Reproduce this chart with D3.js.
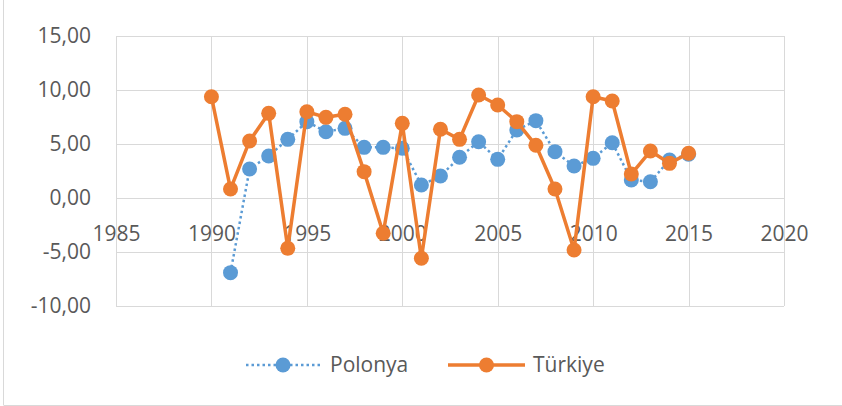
<!DOCTYPE html>
<html>
<head>
<meta charset="utf-8">
<script src="https://cdn.jsdelivr.net/npm/d3@7"></script>
<style>
  body { margin: 0; background: #fff; }
  text { font-family: "Open Sans", sans-serif; fill: #595959; }
</style>
</head>
<body>
<div id="chart"></div>
<script>
// data
var years = [1990, 1991, 1992, 1993, 1994, 1995, 1996, 1997, 1998, 1999, 2000, 2001, 2002,
  2003, 2004, 2005, 2006, 2007, 2008, 2009, 2010, 2011, 2012, 2013, 2014, 2015];
var polonya = [null, -6.91, 2.69, 3.89, 5.43, 7.07, 6.14, 6.45, 4.69, 4.69, 4.6, 1.2, 2.04,
  3.77, 5.21, 3.58, 6.3, 7.16, 4.29, 2.96, 3.67, 5.12, 1.67, 1.51, 3.52, 4.05];
var turkiye = [9.38, 0.83, 5.28, 7.84, -4.66, 7.99, 7.47, 7.75, 2.44, -3.27, 6.91, -5.58, 6.36,
  5.43, 9.54, 8.61, 7.07, 4.88, 0.83, -4.81, 9.38, 8.98, 2.22, 4.35, 3.21, 4.14];
var xTicks = [1985, 1990, 1995, 2000, 2005, 2010, 2015, 2020];
var yTicks = [-10, -5, 0, 5, 10, 15];
var seriesNames = ["Polonya", "Türkiye"];

var svgWidth = 842;
var svgHeight = 406;
var margin = { top: 36, right: 58, bottom: 100, left: 116 };
var width = svgWidth - margin.left - margin.right;
var height = svgHeight - margin.top - margin.bottom;

var svg = d3.select("#chart")
  .append("svg")
  .attr("width", svgWidth)
  .attr("height", svgHeight);

// chart border (left and bottom visible)
svg.append("line").attr("x1", 3.5).attr("x2", 3.5).attr("y1", 0).attr("y2", 405)
  .attr("stroke", "#d9d9d9").attr("stroke-width", 1);
svg.append("line").attr("x1", 3.5).attr("x2", 842).attr("y1", 405.5).attr("y2", 405.5)
  .attr("stroke", "#d9d9d9").attr("stroke-width", 1);

var chartGroup = svg.append("g")
  .attr("transform", `translate(${margin.left}, ${margin.top})`);

var x = d3.scaleLinear().domain([1985, 2020]).range([0, width]);
var y = d3.scaleLinear().domain([-10, 15]).range([height, 0]);

// gridlines
chartGroup.selectAll(".hgrid")
  .data(yTicks)
  .enter()
  .append("line")
  .attr("x1", 0).attr("x2", width)
  .attr("y1", d => Math.round(y(d)) + 0.5)
  .attr("y2", d => Math.round(y(d)) + 0.5)
  .attr("stroke", "#d9d9d9");

chartGroup.selectAll(".vgrid")
  .data(xTicks)
  .enter()
  .append("line")
  .attr("y1", 0).attr("y2", height)
  .attr("x1", d => Math.round(x(d)) + 0.5)
  .attr("x2", d => Math.round(x(d)) + 0.5)
  .attr("stroke", "#d9d9d9");

// y axis labels, comma decimals and plain hyphen minus
var locale = d3.formatLocale({ decimal: ",", thousands: ".", grouping: [3], currency: ["", ""], minus: "-" });
var leftAxis = d3.axisLeft(y).tickValues(yTicks).tickSize(0).tickPadding(25)
  .tickFormat(locale.format(".2f"));
var yAxisG = chartGroup.append("g").call(leftAxis);
yAxisG.select(".domain").remove();
yAxisG.selectAll("text").attr("font-size", "21px").attr("font-family", "Open Sans").attr("fill", "#595959");

// x axis sits at y = 0, labels below
var bottomAxis = d3.axisBottom(x).tickValues(xTicks).tickSize(0).tickPadding(28)
  .tickFormat(d3.format("d"));
var xAxisG = chartGroup.append("g")
  .attr("transform", `translate(0, ${Math.round(y(0))})`)
  .call(bottomAxis);
xAxisG.select(".domain").attr("stroke", "#d9d9d9");
xAxisG.selectAll("text").attr("font-size", "21px").attr("font-family", "Open Sans").attr("fill", "#595959");

var colors = ["#5b9bd5", "#ed7d31"];
var data = [polonya, turkiye];

var line = d3.line()
  .defined(d => d.v !== null)
  .x(d => x(d.year))
  .y(d => y(d.v));

data.forEach(function(vals, i) {
  var pts = years.map((yr, j) => ({ year: yr, v: vals[j] }));
  chartGroup.append("path")
    .datum(pts)
    .attr("d", line)
    .attr("fill", "none")
    .attr("stroke", colors[i])
    .attr("stroke-width", i === 0 ? 2.5 : 3.5)
    .attr("stroke-dasharray", i === 0 ? "2.5 3" : null)
    .attr("stroke-linejoin", "round");

  chartGroup.selectAll(".pt" + i)
    .data(pts.filter(d => d.v !== null))
    .enter()
    .append("circle")
    .attr("cx", d => x(d.year))
    .attr("cy", d => y(d.v))
    .attr("r", 7.5)
    .attr("fill", colors[i]);
});

// legend
var legendY = 365;
var legendItems = [
  { name: seriesNames[0], x1: 246, x2: 320, tx: 330 },
  { name: seriesNames[1], x1: 448, x2: 525, tx: 533 }
];
legendItems.forEach(function(item, i) {
  svg.append("line")
    .attr("x1", item.x1).attr("x2", item.x2)
    .attr("y1", legendY).attr("y2", legendY)
    .attr("stroke", colors[i])
    .attr("stroke-width", i === 0 ? 2.5 : 3.5)
    .attr("stroke-dasharray", i === 0 ? "2.5 3" : null);
  svg.append("circle")
    .attr("cx", (item.x1 + item.x2) / 2)
    .attr("cy", legendY)
    .attr("r", 7.5)
    .attr("fill", colors[i]);
  svg.append("text")
    .attr("x", item.tx)
    .attr("y", legendY)
    .attr("dy", "0.35em")
    .attr("font-size", "21px")
    .text(item.name);
});
</script>
</body>
</html>
